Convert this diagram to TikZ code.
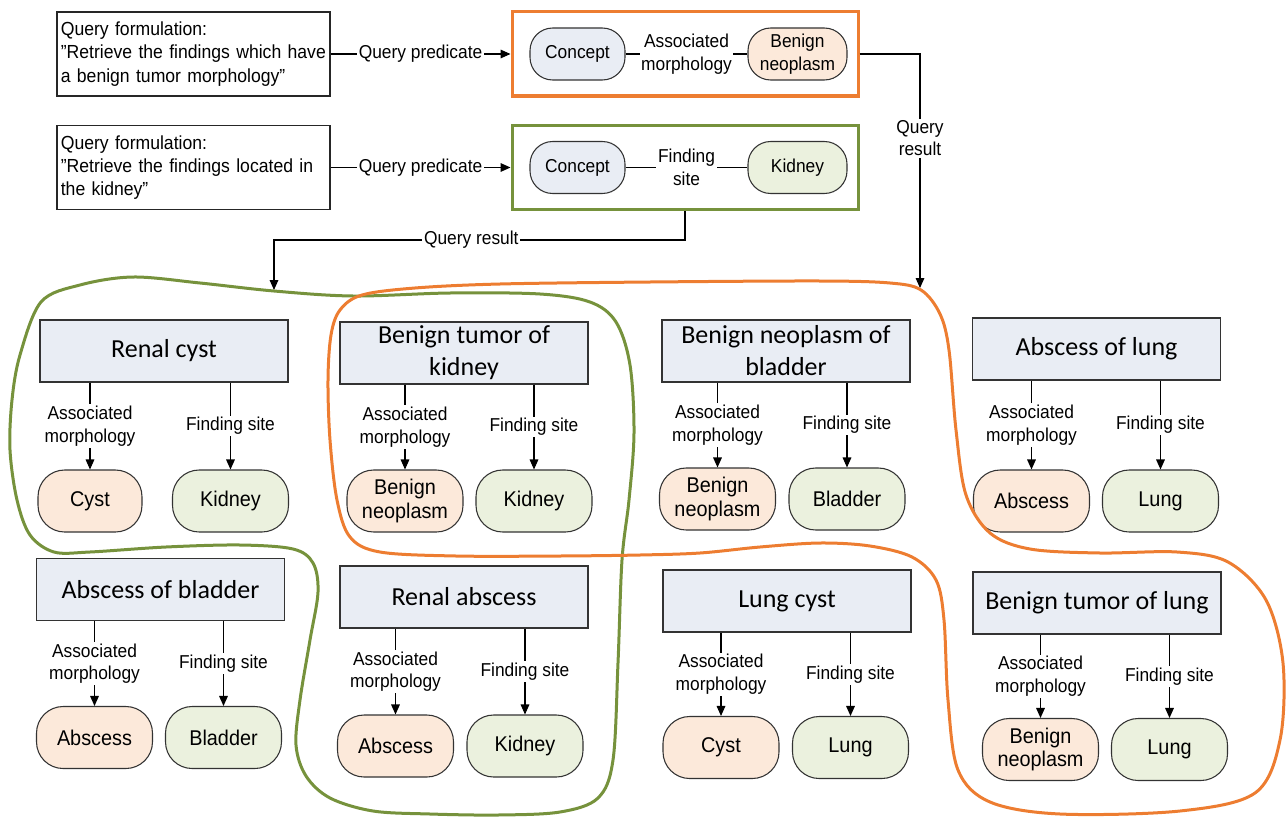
\documentclass[tikz,border=0pt]{standalone}
\usepackage{fontspec}
\setmainfont{Liberation Sans}
\newfontfamily\labfont[FakeStretch=0.93]{Liberation Sans}
\newfontfamily\ttlfont{Carlito}
\usetikzlibrary{arrows.meta}
\definecolor{oran}{HTML}{ED7D31}
\definecolor{olive}{HTML}{76923C}
\definecolor{bfill}{HTML}{E9EDF4}
\definecolor{pfill}{HTML}{FCE9DA}
\definecolor{gfill}{HTML}{EBF1DE}
\begin{document}
\begin{tikzpicture}[x=0.75pt,y=-0.75pt,
 lab/.style={font=\labfont\fontsize{14}{17}\selectfont},
 lbl/.style={lab, align=center, fill=white, inner sep=1.2pt},
 arr/.style={draw=black, line width=0.8pt, -{Triangle[length=7.5pt,width=6.5pt]}},
 conn/.style={draw=black, line width=0.8pt},
 qbox/.style={draw=black!85, line width=0.9pt, minimum width=204.75pt, minimum height=63pt, text width=199pt, align=left, inner xsep=2.5pt, font=\labfont\fontsize{14.2}{17.5}\selectfont},
 frame/.style={line width=2.25pt, minimum width=259.5pt, minimum height=63pt},
 pill/.style={draw=black!80, line width=0.8pt, fill=#1, rounded corners=17pt, minimum height=39pt, lab, align=center, inner sep=1pt},
 block/.style={draw=black!80, line width=1pt, fill=bfill, minimum width=186pt, minimum height=46.5pt, align=center, inner sep=1pt, font=\ttlfont\fontsize{19.5}{24}\selectfont},
 leaf/.style={draw=black!80, line width=0.8pt, rounded corners=20pt, minimum width=87pt, minimum height=46.5pt, align=center, inner sep=1pt, font=\labfont\fontsize{16}{17.5}\selectfont},
 morph/.style={leaf, fill=pfill},
 site/.style={leaf, fill=gfill},
 loopline/.style={line width=2.25pt, line join=round}
]
\useasboundingbox (0,0) rectangle (1288,817);

% ---------- query section ----------
\node[qbox] (q1) at (193.5,54) {Query formulation:\\”Retrieve the findings which have\\a benign tumor morphology”};
\node[qbox] (q2) at (193.5,167.5) {Query formulation:\\”Retrieve the findings located in\\the kidney”};

\node[frame, draw=oran] (obox) at (685,54) {};
\node[frame, draw=olive] (gbox) at (685,167.5) {};

\node[pill=bfill, minimum width=71.25pt] (c1) at (577.5,54) {Concept};
\node[pill=pfill, minimum width=74.25pt] (bn0) at (797.5,54) {Benign\\neoplasm};
\node[pill=bfill, minimum width=71.25pt] (c2) at (577.5,167.5) {Concept};
\node[pill=gfill, minimum width=74.25pt] (k0) at (797.5,167.5) {Kidney};

\draw[conn] (c1) -- node[lbl]{Associated\\morphology} (bn0);
\draw[conn] (c2) -- node[lbl]{Finding\\site} (k0);

\draw[arr] (q1) -- node[lbl]{Query predicate} (obox);
\draw[arr] (q2) -- node[lbl]{Query predicate} (gbox);

\coordinate (qr1) at (920,288);
\coordinate (qr2) at (274,290);
\draw[arr] (obox.east) -| node[lbl, pos=0.68]{Query\\result} (qr1);
\draw[arr] (gbox.south) -- ++(0,29) -| node[lbl, pos=0.26]{Query result} (qr2);

% ---------- concept blocks ----------
\node[block] (b1) at (164,351) {Renal cyst};
\node[block] (b2) at (464,353) {Benign tumor of\\kidney};
\node[block] (b3) at (786,351) {Benign neoplasm of\\bladder};
\node[block] (b4) at (1096.5,349) {Abscess of lung};
\node[block] (b5) at (160.5,589.5) {Abscess of bladder};
\node[block] (b6) at (464,597) {Renal abscess};
\node[block] (b7) at (787,601) {Lung cyst};
\node[block] (b8) at (1097,603) {Benign tumor of lung};

\node[morph, minimum width=78pt] (n1a) at (90,501) {Cyst};
\node[site] (n1b) at (230.5,501) {Kidney};
\node[morph] (n2a) at (405,501) {Benign\\neoplasm};
\node[site] (n2b) at (534,501) {Kidney};
\node[morph] (n3a) at (717.5,499) {Benign\\neoplasm};
\node[site] (n3b) at (847,499) {Bladder};
\node[morph] (n4a) at (1031.5,501) {Abscess};
\node[site] (n4b) at (1160.5,501) {Lung};
\node[morph] (n5a) at (94.5,737.5) {Abscess};
\node[site] (n5b) at (223.5,737.5) {Bladder};
\node[morph] (n6a) at (395.5,746) {Abscess};
\node[site] (n6b) at (525,746) {Kidney};
\node[morph] (n7a) at (721,747.5) {Cyst};
\node[site] (n7b) at (850.5,747.5) {Lung};
\node[morph] (n8a) at (1040.5,749.5) {Benign\\neoplasm};
\node[site] (n8b) at (1169.5,749.5) {Lung};

\foreach \i in {1,...,8}{
  \draw[arr] (n\i a.north |- b\i.south) -- node[lbl]{Associated\\morphology} (n\i a.north);
  \draw[arr] (n\i b.north |- b\i.south) -- node[lbl]{Finding site} (n\i b.north);
}

% ---------- result groupings ----------
\draw[loopline, draw=olive] plot[smooth cycle, tension=0.55] coordinates {
 (41,302) (80,285) (133,277) (200,283) (274,291) (353,296) (450,293) (540,294)
 (590,302) (616,322) (630,365) (634,433) (629,500) (622,560) (618,663) (613,760)
 (598,798) (560,812) (498,815) (430,814) (373,811) (330,798) (306,776) (296,745)
 (300,700) (310,640) (318,592) (313,563) (293,549) (240,545) (166,547) (90,552)
 (54,552) (30,535) (17,500) (10,450) (12,400) (20,355)};
\draw[loopline, draw=oran] plot[smooth cycle, tension=0.55] coordinates {
 (340,310) (362,295) (415,288) (500,284) (650,282) (820,281) (890,283) (921,290)
 (940,314) (949,350) (956,430) (966,495) (990,533) (1030,549) (1100,553) (1177,552)
 (1228,562) (1266,600) (1283,663) (1280,740) (1255,793) (1180,811) (1060,814)
 (990,802) (958,770) (948,700) (944,620) (936,580) (912,557) (870,546) (820,543)
 (760,547) (700,553) (640,555) (560,556) (456,556) (380,552) (350,537) (337,500)
 (330,440) (328,380) (331,335)};
\end{tikzpicture}
\end{document}
